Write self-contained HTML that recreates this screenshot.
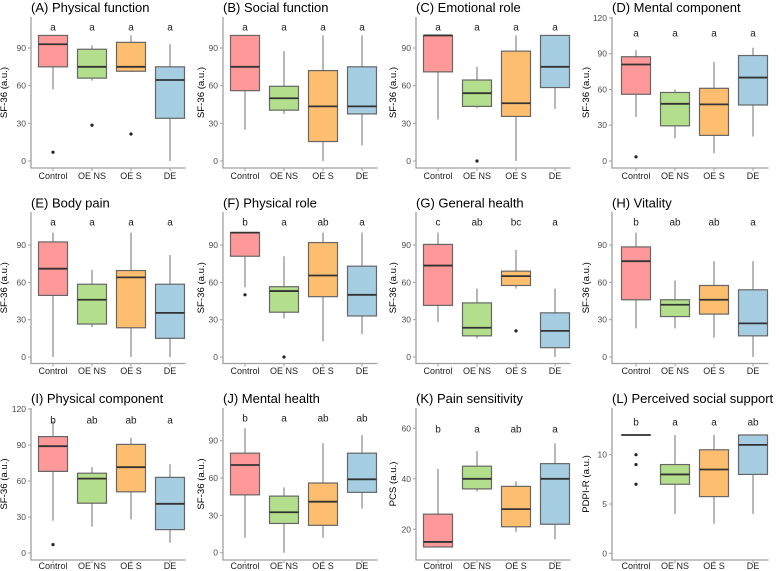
<!DOCTYPE html>
<html><head><meta charset="utf-8"><style>
html,body{margin:0;padding:0;background:#fff}
svg{display:block;font-family:"Liberation Sans",sans-serif}
</style></head><body>
<svg id="chart" width="779" height="571" viewBox="0 0 779 571"></svg>
<script>
// ---- data: [lowWhisker, q1, median, q3, highWhisker] per group ----
const groups = ['Control','OE NS','OE S','DE'];
const titles = ['(A) Physical function','(B) Social function','(C) Emotional role','(D) Mental component',
 '(E) Body pain','(F) Physical role','(G) General health','(H) Vitality',
 '(I) Physical component','(J) Mental health','(K) Pain sensitivity','(L) Perceived social support'];
const yTitles = ['SF-36 (a.u.)','SF-36 (a.u.)','SF-36 (a.u.)','SF-36 (a.u.)','SF-36 (a.u.)','SF-36 (a.u.)','SF-36 (a.u.)','SF-36 (a.u.)','SF-36 (a.u.)','SF-36 (a.u.)','PCS (a.u.)','PDPI-R (a.u.)'];
const statsA = [[57,75,93,100,100],[64,66,75,89,92],[71,71.5,75,94.5,100],[0,34,64.5,75,93]];
const statsB = [[25,56,75,100,100],[37.5,40.5,50,59.5,87.5],[0,15.5,43.5,72,100],[12.5,37.5,43.5,75,100]];
const statsC = [[33,71,100,100,100],[42,43.5,54,64.5,75],[0,35.5,46,87.5,100],[41.5,58.5,75,100,100]];
const statsD = [[37,56,81,87.5,93],[19,29.5,48,57.5,60],[6.5,21.5,47.5,61,83],[20.5,47,70,88.5,95]];
const statsE = [[0,49.5,71,92.5,100],[24,26.5,46,58.5,70],[0,23.5,64,69.5,100],[0,15,35.5,58.5,82]];
const statsF = [[56,81,100,100,100],[31,36,53,56.5,81],[12.5,48.5,65.5,92,100],[18.5,33,50,73,100]];
const statsG = [[28,41.5,73.5,90.5,100],[15,17,23.5,43.5,55],[55,57.5,65,69,86],[0,7.5,21,35.5,55]];
const statsH = [[23,46,77,88.5,100],[23,32.5,42,46,61.5],[15.5,34.5,46,57.5,77],[0,17,27,54,77]];
const statsI = [[27,68,89,97,110],[22,41.5,62,66.5,71.5],[28,51,71.5,90.5,96],[8.5,19.5,41,63,74]];
const statsJ = [[12,46.5,70.5,80,100],[0,23.5,32.5,45.5,52.5],[12,22,41,56,88],[35.5,48.5,59,80,94.5]];
const statsK = [[13,13,15,26,44],[35,36,40,45,51],[19,21,28,37,39],[16,22,40,46,54]];
const statsL = [[12,12,12,12,12],[4,7,8,9,12],[3,5.75,8.5,10.5,12],[4,8,11,12,12]];
const outliersA = [[7],[28.5],[21.5],[]];
const outliersB = [[],[],[],[]];
const outliersC = [[],[0],[],[]];
const outliersD = [[3.5],[],[],[]];
const outliersE = [[],[],[],[]];
const outliersF = [[50],[0],[],[]];
const outliersG = [[],[],[21],[]];
const outliersH = [[],[],[],[]];
const outliersI = [[7],[],[],[]];
const outliersJ = [[],[],[],[]];
const outliersK = [[],[],[],[]];
const outliersL = [[10,9,7],[],[],[]];
const lettersA = ['a','a','a','a'], lettersB = ['a','a','a','a'], lettersC = ['a','a','a','a'], lettersD = ['a','a','a','a'];
const lettersE = ['a','a','a','a'], lettersF = ['b','a','ab','a'], lettersG = ['c','ab','bc','a'], lettersH = ['b','ab','ab','a'];
const lettersI = ['b','ab','ab','a'], lettersJ = ['b','a','ab','ab'], lettersK = ['b','a','ab','a'], lettersL = ['b','a','a','ab'];
const ticksSF = [0,30,60,90];
const ticksSF120 = [0,30,60,90,120];
const ticksK = [20,40,60];
const ticksL = [0,5,10];

const allStats = [statsA,statsB,statsC,statsD,statsE,statsF,statsG,statsH,statsI,statsJ,statsK,statsL];
const allOut = [outliersA,outliersB,outliersC,outliersD,outliersE,outliersF,outliersG,outliersH,outliersI,outliersJ,outliersK,outliersL];
const allLetters = [lettersA,lettersB,lettersC,lettersD,lettersE,lettersF,lettersG,lettersH,lettersI,lettersJ,lettersK,lettersL];
const allTicks = [ticksSF,ticksSF,ticksSF,ticksSF120,ticksSF,ticksSF,ticksSF,ticksSF,ticksSF120,ticksSF,ticksK,ticksL];

// ---- layout (pixels) ----
const colAxis = [31,223,416,612];
const colFirst = [22,22,22,24];
const colYTitleOff = [24,19,20,23];
const rowTop = [17,212,408], rowBottom = [168,363.5,560], titleBase = [12,207.5,403], xlabBase = [179,374,569];
const yRef = [[0,161,1.2556],[0,161,1.2556],[0,161,1.2556],[0,161,1.1917],
 [0,357,1.244],[0,357,1.244],[0,357,1.244],[0,357,1.244],
 [0,553,1.2],[0,552.7,1.244],[60,428.3,2.525],[0,553.3,9.86]];
const letterPx = [27,27,27,33,222,222,222,222,420,418,429,422];
const fills = ['#FF9999','#B3DF8C','#FDBF6F','#A6CEE3'];
const NS='http://www.w3.org/2000/svg';
const svg=document.getElementById('chart');
function mk(tag,attrs,parent,text){const e=document.createElementNS(NS,tag);for(const k in attrs)e.setAttribute(k,attrs[k]);if(text!==undefined)e.textContent=text;(parent||svg).appendChild(e);return e;}

for(let p=0;p<12;p++){
  const r=Math.floor(p/4), c=p%4;
  const ax=colAxis[c], top=rowTop[r], bot=rowBottom[r];
  const ref=yRef[p];
  const y=v=>ref[1]-(v-ref[0])*ref[2];
  const x=i=>ax+colFirst[c]+i*39;
  const g=mk('g',{});
  
  
  const t=mk('text',{x:ax,y:titleBase[r],'font-size':13,fill:'#000'},g,titles[p]);
  
  
  const yt=mk('text',{transform:`translate(${ax-colYTitleOff[c]},${(top+bot)/2}) rotate(-90)`,'text-anchor':'middle','font-size':9.6,fill:'#000'},g,yTitles[p]);
  
  
  const xend=ax+colFirst[c]+3*39+15.5;
  const axl=mk('path',{d:`M${ax},${top}V${bot}H${xend}`,stroke:'#a0a0a0','stroke-width':1.3,fill:'none'},g);
  
  
  allTicks[p].forEach(v=>{
    mk('line',{x1:ax-3,x2:ax,y1:y(v),y2:y(v),stroke:'#a0a0a0','stroke-width':1},g);
    const tl=mk('text',{x:ax-5,y:y(v)+3,'text-anchor':'end','font-size':8.5,fill:'#4d4d4d'},g,v);
    
    
  });
  groups.forEach((gname,i)=>{
    const s=allStats[p][i], cx=x(i), hw=14.5;
    mk('line',{x1:cx,x2:cx,y1:y(s[0]),y2:y(s[1]),stroke:'#888','stroke-width':1.2},g);
    mk('line',{x1:cx,x2:cx,y1:y(s[3]),y2:y(s[4]),stroke:'#888','stroke-width':1.2},g);
    const b=mk('rect',{x:cx-hw,y:y(s[3]),width:hw*2,height:Math.max(0.01,y(s[1])-y(s[3])),fill:fills[i],stroke:'#666','stroke-width':1.2},g);
    
    
    mk('line',{x1:cx-hw,x2:cx+hw,y1:y(s[2]),y2:y(s[2]),stroke:'#333','stroke-width':1.8},g);
    allOut[p][i].forEach(v=>{
      const o=mk('circle',{cx:cx,cy:y(v),r:1.6,fill:'#222'},g);
      
      
    });
    const lt=mk('text',{x:cx,y:letterPx[p]+3.5,'text-anchor':'middle','font-size':10,fill:'#222'},g,allLetters[p][i]);
    
    
    mk('line',{x1:cx,x2:cx,y1:bot,y2:bot+3,stroke:'#a0a0a0','stroke-width':1},g);
    const xl=mk('text',{x:cx,y:xlabBase[r],'text-anchor':'middle','font-size':9,fill:'#222'},g,gname);
    
    
  });
}
</script>
</body></html>
